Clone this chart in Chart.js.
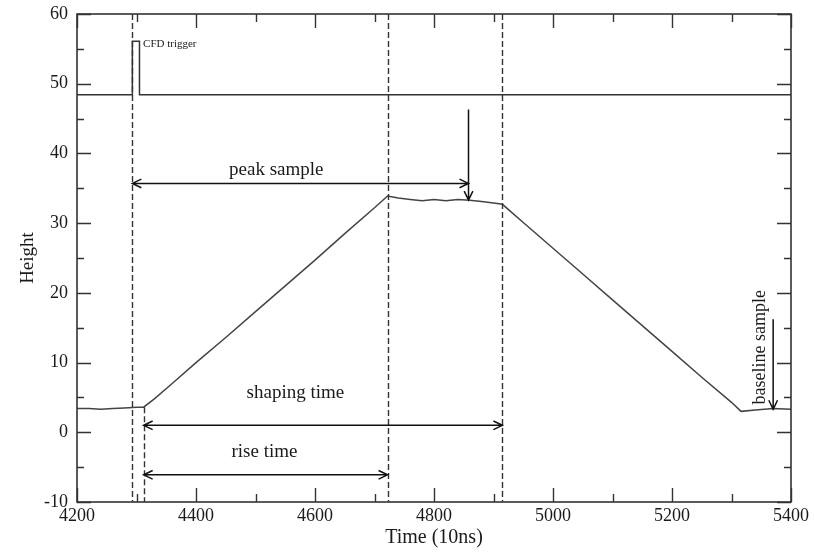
<!DOCTYPE html>
<html><head><meta charset="utf-8">
<script src="https://cdn.jsdelivr.net/npm/chart.js@4"></script>
<style>html,body{margin:0;padding:0;background:#fff}</style>
</head><body>
<canvas id="c" width="814" height="553"></canvas>
<script>
// ---- data ----
const signalTime   = [4200, 4220, 4240, 4260, 4280, 4300, 4312, 4330, 4360, 4400, 4450, 4500, 4550, 4600, 4650, 4700, 4722,
                      4740, 4760, 4780, 4800, 4820, 4840, 4860, 4880, 4900, 4915,
                      4950, 5000, 5050, 5100, 5150, 5200, 5250, 5300, 5316, 5340, 5370, 5400];
const signalHeight = [3.4, 3.4, 3.3, 3.4, 3.5, 3.6, 3.6, 4.8, 7.0, 10.0, 13.6, 17.3, 21.0, 24.7, 28.5, 32.2, 33.9,
                      33.6, 33.4, 33.2, 33.4, 33.2, 33.4, 33.3, 33.1, 32.9, 32.7,
                      30.1, 26.4, 22.7, 19.0, 15.3, 11.6, 7.9, 4.3, 3.0, 3.2, 3.4, 3.3];
const cfdTime   = [4200, 4293, 4293, 4305, 4305, 5400];
const cfdHeight = [48.4, 48.4, 56.1, 56.1, 48.4, 48.4];

const xTickValues = [4200, 4400, 4600, 4800, 5000, 5200, 5400];
const yTickValues = [-10, 0, 10, 20, 30, 40, 50, 60];
const xMinorStep = 100;
const yMinorStep = 5;

// dashed marker lines (time, from height, to height)
const markerTime   = [4293, 4312, 4722, 4915];
const markerBottom = [-10, -10, -10, -10];
const markerTop    = [60, 3.6, 60, 60];

// arrows (start -> end), heads: 1 = at end, 2 = both ends
const arrowX1 = [4293, 4858, 4312, 4312, 5370];
const arrowY1 = [35.7, 46.3, 1.0, -6.1, 16.2];
const arrowX2 = [4858, 4858, 4915, 4722, 5370];
const arrowY2 = [35.7, 33.3, 1.0, -6.1, 3.3];
const arrowHeads = [2, 1, 2, 2, 1];

// annotation labels
const labelText = ["peak sample", "shaping time", "rise time", "CFD trigger", "baseline sample"];
const labelX    = [4535, 4567, 4515, 4311, 5348];
const labelY    = [37.6, 5.6, -2.9, 55.7, 12.2];

// ---- drawing ----
const SERIF = "'Liberation Serif', 'Times New Roman', serif";
const INK = '#1a1a1a';

const decor = {
  id: 'decor',
  afterDatasetsDraw(chart) {
    const {ctx, chartArea: a, scales: {x, y}} = chart;
    ctx.save();
    // frame
    ctx.strokeStyle = '#333';
    ctx.lineWidth = 1.6;
    ctx.strokeRect(a.left, a.top, a.right - a.left, a.bottom - a.top);
    // ticks (inward)
    ctx.lineWidth = 1.4;
    ctx.beginPath();
    for (let v = x.min; v <= x.max + 1e-9; v += xMinorStep) {
      const px = Math.round(x.getPixelForValue(v)) + 0.5;
      const len = (v % 200 === 0) ? 14 : 8;
      ctx.moveTo(px, a.bottom); ctx.lineTo(px, a.bottom - len);
      ctx.moveTo(px, a.top); ctx.lineTo(px, a.top + len);
    }
    for (let v = y.min; v <= y.max + 1e-9; v += yMinorStep) {
      const py = Math.round(y.getPixelForValue(v)) + 0.5;
      const len = (v % 10 === 0) ? 14 : 7;
      ctx.moveTo(a.left, py); ctx.lineTo(a.left + len, py);
      ctx.moveTo(a.right, py); ctx.lineTo(a.right - len, py);
    }
    ctx.stroke();
    // dashed markers
    ctx.strokeStyle = '#333';
    ctx.lineWidth = 1.4;
    ctx.setLineDash([6, 3]);
    ctx.beginPath();
    markerTime.forEach((t, i) => {
      const px = Math.round(x.getPixelForValue(t)) + 0.5;
      ctx.moveTo(px, y.getPixelForValue(markerTop[i]));
      ctx.lineTo(px, y.getPixelForValue(markerBottom[i]));
    });
    ctx.stroke();
    ctx.setLineDash([]);
    // arrows
    ctx.strokeStyle = '#111';
    ctx.lineWidth = 1.5;
    const head = (x0, y0, x1, y1) => {
      const ang = Math.atan2(y1 - y0, x1 - x0);
      const L = 10, W = 0.45;
      ctx.moveTo(x1 - L * Math.cos(ang - W), y1 - L * Math.sin(ang - W));
      ctx.lineTo(x1, y1);
      ctx.lineTo(x1 - L * Math.cos(ang + W), y1 - L * Math.sin(ang + W));
    };
    arrowX1.forEach((_, i) => {
      const x0 = x.getPixelForValue(arrowX1[i]), y0 = y.getPixelForValue(arrowY1[i]);
      const x1 = x.getPixelForValue(arrowX2[i]), y1 = y.getPixelForValue(arrowY2[i]);
      ctx.beginPath();
      ctx.moveTo(x0, y0); ctx.lineTo(x1, y1);
      head(x0, y0, x1, y1);
      if (arrowHeads[i] === 2) head(x1, y1, x0, y0);
      ctx.stroke();
    });
    // labels
    ctx.fillStyle = INK;
    ctx.textBaseline = 'middle';
    labelText.forEach((txt, i) => {
      const px = x.getPixelForValue(labelX[i]), py = y.getPixelForValue(labelY[i]);
      ctx.save();
      if (txt === 'CFD trigger') {
        ctx.font = '11px ' + SERIF; ctx.textAlign = 'left';
        ctx.fillText(txt, px, py);
      } else if (txt === 'baseline sample') {
        ctx.font = '18px ' + SERIF; ctx.textAlign = 'center';
        ctx.translate(px, py); ctx.rotate(-Math.PI / 2);
        ctx.fillText(txt, 0, 0);
      } else {
        ctx.font = '19px ' + SERIF; ctx.textAlign = 'center';
        ctx.fillText(txt, px, py);
      }
      ctx.restore();
    });
    ctx.restore();
  }
};

new Chart(document.getElementById('c'), {
  type: 'scatter',
  data: {
    datasets: [
      { data: signalTime.map((t, i) => ({x: t, y: signalHeight[i]})), showLine: true,
        borderColor: '#444', borderWidth: 1.5, pointRadius: 0, tension: 0 },
      { data: cfdTime.map((t, i) => ({x: t, y: cfdHeight[i]})), showLine: true,
        borderColor: '#333', borderWidth: 1.5, pointRadius: 0, tension: 0 }
    ]
  },
  options: {
    responsive: false,
    animation: false,
    layout: { padding: { top: 14, right: 23, left: 0, bottom: 0 } },
    plugins: { legend: { display: false }, tooltip: { enabled: false } },
    scales: {
      x: {
        type: 'linear', min: 4200, max: 5400,
        afterBuildTicks: s => { s.ticks = xTickValues.map(v => ({value: v})); },
        afterFit: s => { s.height = 51; },
        ticks: { font: { family: SERIF, size: 18 }, color: INK, padding: 3, maxRotation: 0, autoSkip: false,
                 callback: v => String(v) },
        grid: { display: false, drawTicks: false },
        border: { display: false },
        title: { display: true, text: 'Time (10ns)', font: { family: SERIF, size: 20 }, color: INK,
                 padding: { top: 0, bottom: 3 } }
      },
      y: {
        min: -10, max: 60,
        afterBuildTicks: s => { s.ticks = yTickValues.map(v => ({value: v})); },
        afterFit: s => { s.width = 77; s.paddingTop = 0; s.paddingBottom = 0; },
        ticks: { font: { family: SERIF, size: 18 }, color: INK, padding: 9, autoSkip: false,
                 callback: v => String(v) },
        grid: { display: false, drawTicks: false },
        border: { display: false },
        title: { display: true, text: 'Height', font: { family: SERIF, size: 19 }, color: INK,
                 padding: { top: 17, bottom: 0 } }
      }
    }
  },
  plugins: [decor]
});
</script>
</body></html>
